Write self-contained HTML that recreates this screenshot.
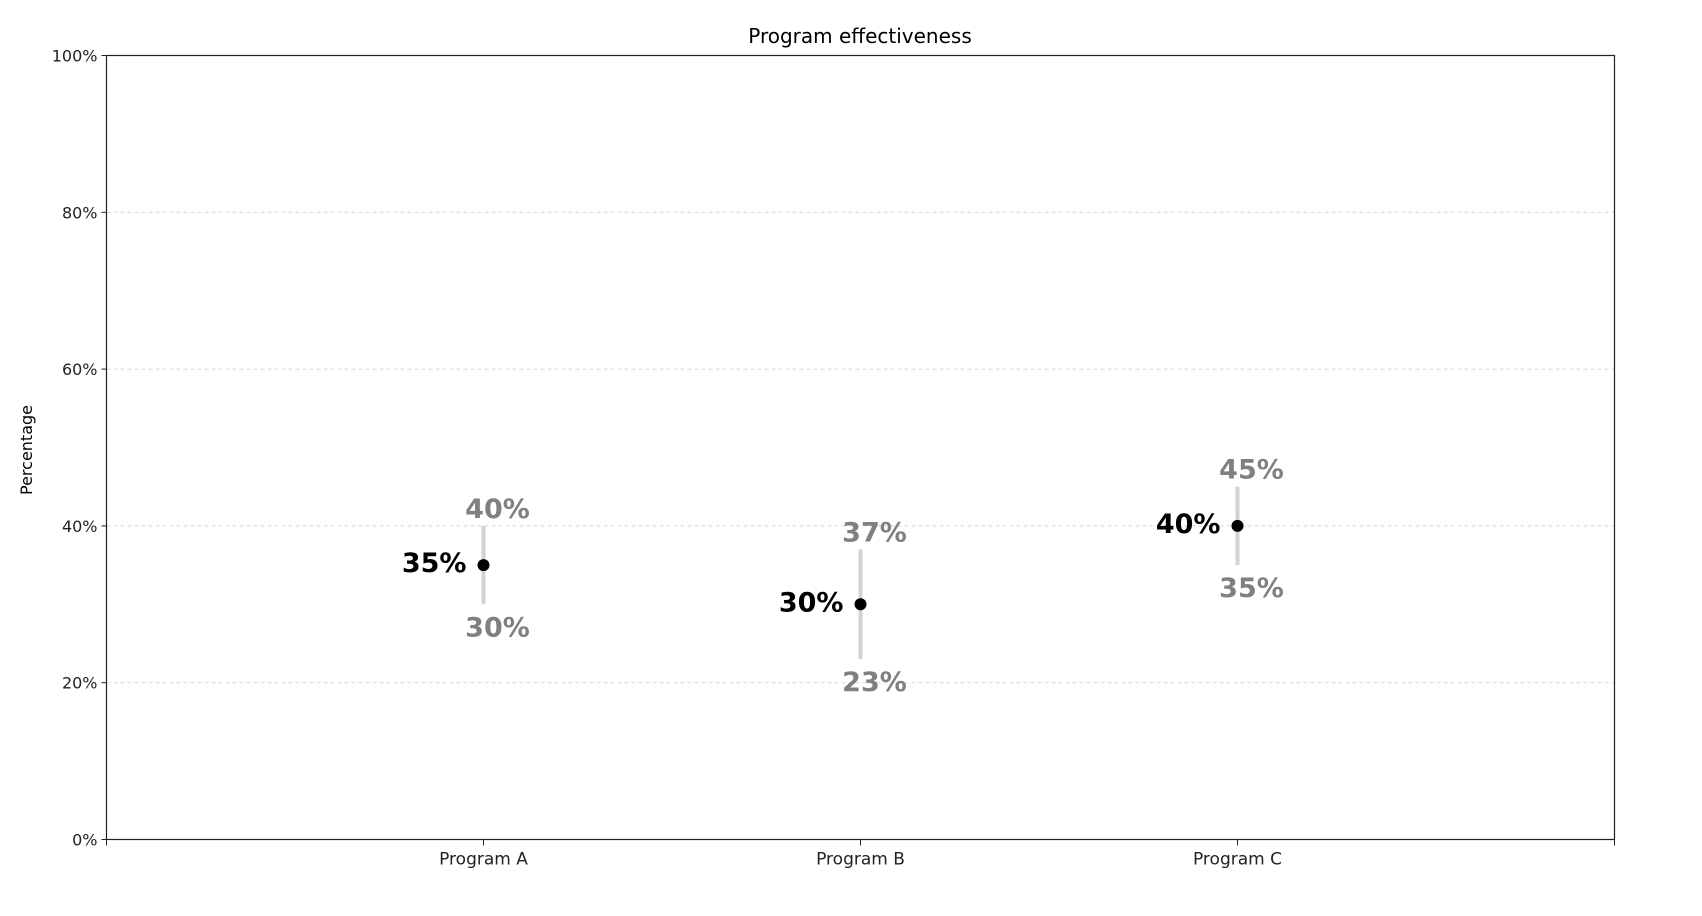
<!DOCTYPE html>
<html><head><meta charset="utf-8"><style>
html,body{margin:0;padding:0;background:#fff;}
svg{display:block;font-family:"DejaVu Sans","Liberation Sans",sans-serif;}
</style></head><body>
<svg id="chart" width="1702" height="916">
<text x="860" y="43" font-size="20" text-anchor="middle" fill="#000">Program effectiveness</text>
<text transform="translate(32,450) rotate(-90)" font-size="16" text-anchor="middle" fill="#000">Percentage</text>
<g id="grid"></g><g id="yticks"></g><g id="xticks"></g><g id="marks"></g>
<rect x="106.5" y="55.5" width="1508" height="784" fill="none" stroke="#222" stroke-width="1.2"/>
</svg>
<script>
const categories = ["Program A", "Program B", "Program C"];
const values = [35, 30, 40];
const lows = [30, 23, 35];
const highs = [40, 37, 45];
const yTicks = [0, 20, 40, 60, 80, 100];
const NS = "http://www.w3.org/2000/svg";
const L = 106.5, R = 1614.5, T = 55.5, B = 839.5;
function xs(i){ return L + (i + 1) * (R - L) / 4; }
function ys(v){ return B - v / 100 * (B - T); }
function mk(tag, attrs, parent, text){
  const e = document.createElementNS(NS, tag);
  for (const k in attrs) e.setAttribute(k, attrs[k]);
  if (text !== undefined) e.textContent = text;
  document.getElementById(parent).appendChild(e);
  return e;
}
yTicks.forEach(v => {
  const y = ys(v);
  if (v > 0 && v < 100) {
    const g = mk("line", {x1: L, x2: R, y1: y, y2: y, stroke: "#d8d8d8", "stroke-dasharray": "4,3", "stroke-width": 1}, "grid");
    
    
  }
  const t = mk("line", {x1: L - 5, x2: L, y1: y, y2: y, stroke: "#222"}, "yticks");
  
  
  const lb = mk("text", {x: L - 9, y: y + 6, "font-size": 16, "text-anchor": "end", fill: "#222"}, "yticks", v + "%");
  
  
});
[-1, 3].forEach(i => {
  const t = mk("line", {x1: xs(i), x2: xs(i), y1: B, y2: B + 6, stroke: "#222"}, "xticks");
  
  
});
categories.forEach((c, i) => {
  const x = xs(i);
  const t = mk("line", {x1: x, x2: x, y1: B, y2: B + 6, stroke: "#222"}, "xticks");
  
  
  const lb = mk("text", {x: x, y: B + 25, "font-size": 17, "text-anchor": "middle", fill: "#222"}, "xticks", c);
  
  
  const bar = mk("line", {x1: x, x2: x, y1: ys(lows[i]), y2: ys(highs[i]), stroke: "#d3d3d3", "stroke-width": 4}, "marks");
  
  
  const pt = mk("circle", {cx: x, cy: ys(values[i]), r: 6, fill: "#000"}, "marks");
  
  
  const vl = mk("text", {x: x - 17, y: ys(values[i]) + 7, "font-size": 27, "font-weight": "bold", "text-anchor": "end", fill: "#000"}, "marks", values[i] + "%");
  
  
  const hl = mk("text", {x: x + 14, y: ys(highs[i]) - 8, "font-size": 27, "font-weight": "bold", "text-anchor": "middle", fill: "#808080"}, "marks", highs[i] + "%");
  
  
  const ll = mk("text", {x: x + 14, y: ys(lows[i]) + 32, "font-size": 27, "font-weight": "bold", "text-anchor": "middle", fill: "#808080"}, "marks", lows[i] + "%");
  
  
});
</script>
</body></html>
